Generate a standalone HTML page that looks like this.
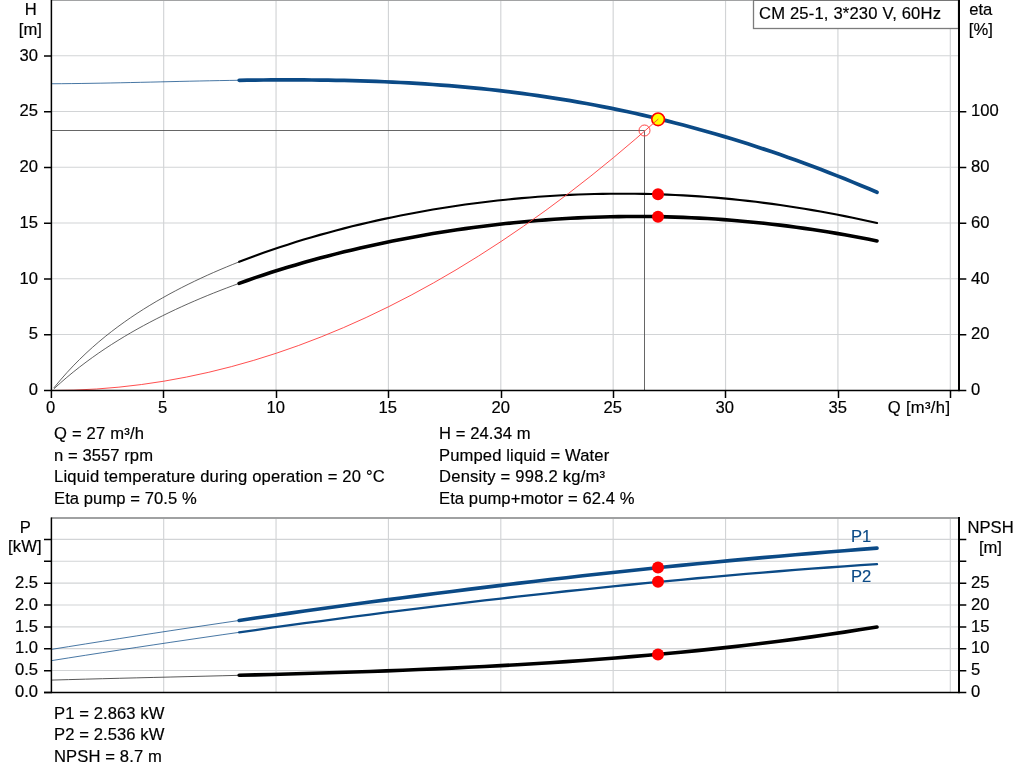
<!DOCTYPE html>
<html lang="en"><head><meta charset="utf-8"><title>CM 25-1 pump curve</title>
<style>
html,body{margin:0;padding:0;background:#fff}
body{width:1024px;height:781px;overflow:hidden}
svg{display:block}
text{font-family:"Liberation Sans",sans-serif;font-size:16.6px;fill:#000;stroke:#000;stroke-width:.18px}
.m{text-anchor:middle}.e{text-anchor:end}
.g{stroke:#d2d4d6;stroke-width:1.15}
.ax{stroke:#000;fill:none}
.c{fill:none;stroke-linecap:round;stroke-linejoin:round}
</style></head><body>
<svg width="1024" height="781" viewBox="0 0 1024 781">
<rect width="1024" height="781" fill="#fff"/>
<g class="g">
<line x1="163.68" y1="1" x2="163.68" y2="390"/>
<line x1="276.05" y1="1" x2="276.05" y2="390"/>
<line x1="388.43" y1="1" x2="388.43" y2="390"/>
<line x1="500.80" y1="1" x2="500.80" y2="390"/>
<line x1="613.17" y1="1" x2="613.17" y2="390"/>
<line x1="725.55" y1="1" x2="725.55" y2="390"/>
<line x1="837.92" y1="1" x2="837.92" y2="390"/>
<line x1="950.30" y1="1" x2="950.30" y2="390"/>
<line x1="52" y1="55.70" x2="958" y2="55.70"/>
<line x1="52" y1="111.45" x2="958" y2="111.45"/>
<line x1="52" y1="167.20" x2="958" y2="167.20"/>
<line x1="52" y1="222.95" x2="958" y2="222.95"/>
<line x1="52" y1="278.70" x2="958" y2="278.70"/>
<line x1="52" y1="334.45" x2="958" y2="334.45"/>
<line x1="163.68" y1="519" x2="163.68" y2="692"/>
<line x1="276.05" y1="519" x2="276.05" y2="692"/>
<line x1="388.43" y1="519" x2="388.43" y2="692"/>
<line x1="500.80" y1="519" x2="500.80" y2="692"/>
<line x1="613.17" y1="519" x2="613.17" y2="692"/>
<line x1="725.55" y1="519" x2="725.55" y2="692"/>
<line x1="837.92" y1="519" x2="837.92" y2="692"/>
<line x1="950.30" y1="519" x2="950.30" y2="692"/>
<line x1="52" y1="670.54" x2="958" y2="670.54"/>
<line x1="52" y1="648.68" x2="958" y2="648.68"/>
<line x1="52" y1="626.82" x2="958" y2="626.82"/>
<line x1="52" y1="604.96" x2="958" y2="604.96"/>
<line x1="52" y1="583.10" x2="958" y2="583.10"/>
<line x1="52" y1="561.24" x2="958" y2="561.24"/>
<line x1="52" y1="539.38" x2="958" y2="539.38"/>
</g>
<rect x="51" y="517" width="908" height="2" fill="#a0a1a2"/>
<path d="M52 130.5H644.5V390" fill="none" stroke="#555" stroke-width="0.9"/>
<g class="c">
<path d="M51.50 83.75 L61.38 83.69 L71.25 83.59 L81.13 83.47 L91.01 83.32 L100.89 83.16 L110.76 82.97 L120.64 82.77 L130.52 82.56 L140.39 82.33 L150.27 82.11 L160.15 81.88 L170.03 81.65 L179.90 81.42 L189.78 81.20 L199.66 80.99 L209.53 80.79 L219.41 80.60 L229.29 80.43 L239.17 80.28" stroke="#0b4a86" stroke-width="0.75"/>
<path d="M239.17 80.28 L247.24 80.17 L255.31 80.08 L263.39 80.00 L271.46 79.94 L279.54 79.91 L287.61 79.89 L295.68 79.90 L303.76 79.93 L311.83 79.98 L319.91 80.06 L327.98 80.16 L336.05 80.30 L344.13 80.46 L352.20 80.66 L360.28 80.88 L368.35 81.14 L376.42 81.43 L384.50 81.75 L392.57 82.12 L400.64 82.51 L408.72 82.95 L416.79 83.42 L424.87 83.93 L432.94 84.48 L441.01 85.07 L449.09 85.70 L457.16 86.38 L465.24 87.10 L473.31 87.86 L481.38 88.67 L489.46 89.52 L497.53 90.42 L505.61 91.36 L513.68 92.36 L521.75 93.40 L529.83 94.49 L537.90 95.62 L545.98 96.81 L554.05 98.05 L562.12 99.34 L570.20 100.68 L578.27 102.07 L586.35 103.51 L594.42 105.01 L602.49 106.56 L610.57 108.16 L618.64 109.82 L626.71 111.53 L634.79 113.30 L642.86 115.12 L650.94 116.99 L659.01 118.92 L667.08 120.91 L675.16 122.95 L683.23 125.05 L691.31 127.20 L699.38 129.41 L707.45 131.68 L715.53 134.00 L723.60 136.38 L731.68 138.81 L739.75 141.30 L747.82 143.85 L755.90 146.46 L763.97 149.12 L772.05 151.84 L780.12 154.61 L788.19 157.45 L796.27 160.33 L804.34 163.28 L812.42 166.28 L820.49 169.33 L828.56 172.44 L836.64 175.61 L844.71 178.83 L852.78 182.11 L860.86 185.44 L868.93 188.82 L877.01 192.26" stroke="#0b4a86" stroke-width="3.7"/>
<path d="M54.08 387.61 L60.47 379.94 L66.85 372.70 L73.23 365.87 L79.61 359.41 L86.00 353.27 L92.38 347.45 L98.76 341.90 L105.14 336.61 L111.52 331.56 L117.91 326.72 L124.29 322.10 L130.67 317.65 L137.05 313.39 L143.43 309.29 L149.82 305.34 L156.20 301.53 L162.58 297.86 L168.96 294.31 L175.35 290.88 L181.73 287.56 L188.11 284.35 L194.49 281.24 L200.87 278.22 L207.26 275.29 L213.64 272.44 L220.02 269.68 L226.40 267.00 L232.78 264.39 L239.17 261.85" stroke="#3a3a3a" stroke-width="0.8"/>
<path d="M54.08 388.66 L60.47 382.89 L66.85 377.37 L73.23 372.09 L79.61 367.03 L86.00 362.17 L92.38 357.50 L98.76 353.01 L105.14 348.68 L111.52 344.51 L117.91 340.49 L124.29 336.60 L130.67 332.84 L137.05 329.20 L143.43 325.68 L149.82 322.27 L156.20 318.96 L162.58 315.75 L168.96 312.63 L175.35 309.59 L181.73 306.65 L188.11 303.78 L194.49 300.99 L200.87 298.27 L207.26 295.62 L213.64 293.04 L220.02 290.52 L226.40 288.07 L232.78 285.67 L239.17 283.34" stroke="#3a3a3a" stroke-width="0.8"/>
<path d="M239.17 261.85 L247.24 258.73 L255.31 255.72 L263.39 252.81 L271.46 249.99 L279.54 247.26 L287.61 244.63 L295.68 242.07 L303.76 239.60 L311.83 237.20 L319.91 234.88 L327.98 232.64 L336.05 230.47 L344.13 228.36 L352.20 226.33 L360.28 224.37 L368.35 222.47 L376.42 220.64 L384.50 218.87 L392.57 217.17 L400.64 215.52 L408.72 213.94 L416.79 212.43 L424.87 210.97 L432.94 209.57 L441.01 208.24 L449.09 206.96 L457.16 205.74 L465.24 204.58 L473.31 203.48 L481.38 202.44 L489.46 201.46 L497.53 200.54 L505.61 199.67 L513.68 198.87 L521.75 198.12 L529.83 197.43 L537.90 196.79 L545.98 196.22 L554.05 195.70 L562.12 195.25 L570.20 194.85 L578.27 194.51 L586.35 194.22 L594.42 194.00 L602.49 193.83 L610.57 193.73 L618.64 193.68 L626.71 193.69 L634.79 193.76 L642.86 193.88 L650.94 194.07 L659.01 194.31 L667.08 194.62 L675.16 194.98 L683.23 195.40 L691.31 195.88 L699.38 196.42 L707.45 197.02 L715.53 197.67 L723.60 198.39 L731.68 199.16 L739.75 199.99 L747.82 200.88 L755.90 201.83 L763.97 202.84 L772.05 203.91 L780.12 205.03 L788.19 206.21 L796.27 207.45 L804.34 208.75 L812.42 210.11 L820.49 211.52 L828.56 212.99 L836.64 214.52 L844.71 216.10 L852.78 217.74 L860.86 219.44 L868.93 221.19 L877.01 223.00" stroke="#000" stroke-width="2.1"/>
<path d="M239.17 283.34 L247.24 280.46 L255.31 277.67 L263.39 274.96 L271.46 272.33 L279.54 269.78 L287.61 267.30 L295.68 264.90 L303.76 262.56 L311.83 260.29 L319.91 258.09 L327.98 255.96 L336.05 253.88 L344.13 251.87 L352.20 249.92 L360.28 248.03 L368.35 246.20 L376.42 244.43 L384.50 242.71 L392.57 241.05 L400.64 239.45 L408.72 237.90 L416.79 236.41 L424.87 234.97 L432.94 233.59 L441.01 232.26 L449.09 230.99 L457.16 229.77 L465.24 228.60 L473.31 227.49 L481.38 226.43 L489.46 225.43 L497.53 224.47 L505.61 223.57 L513.68 222.73 L521.75 221.94 L529.83 221.20 L537.90 220.51 L545.98 219.88 L554.05 219.30 L562.12 218.77 L570.20 218.30 L578.27 217.88 L586.35 217.51 L594.42 217.20 L602.49 216.95 L610.57 216.74 L618.64 216.59 L626.71 216.50 L634.79 216.46 L642.86 216.47 L650.94 216.54 L659.01 216.67 L667.08 216.84 L675.16 217.08 L683.23 217.37 L691.31 217.71 L699.38 218.11 L707.45 218.56 L715.53 219.07 L723.60 219.64 L731.68 220.26 L739.75 220.94 L747.82 221.67 L755.90 222.46 L763.97 223.30 L772.05 224.20 L780.12 225.15 L788.19 226.16 L796.27 227.23 L804.34 228.35 L812.42 229.53 L820.49 230.76 L828.56 232.05 L836.64 233.39 L844.71 234.79 L852.78 236.24 L860.86 237.75 L868.93 239.31 L877.01 240.93" stroke="#000" stroke-width="3.6"/>
</g>
<circle cx="658" cy="194.2" r="6" fill="#f00"/>
<circle cx="658" cy="216.7" r="6" fill="#f00"/>
<circle cx="658.1" cy="119.3" r="6.3" fill="#ff0" stroke="#f00" stroke-width="1.6"/>
<path d="M51.50 390.50 L73.97 390.13 L96.45 389.01 L118.93 387.15 L141.40 384.54 L163.88 381.19 L186.35 377.09 L208.83 372.25 L231.30 366.66 L253.78 360.33 L276.25 353.26 L298.73 345.44 L321.20 336.87 L343.68 327.56 L366.15 317.50 L388.62 306.70 L411.10 295.16 L433.58 282.87 L456.05 269.83 L478.53 256.05 L501.00 241.53 L523.48 226.26 L545.95 210.24 L568.43 193.49 L590.90 175.98 L613.38 157.73 L635.85 138.74 L658.33 119.00" fill="none" stroke="#ff3b3b" stroke-width="0.9"/>
<circle cx="644.5" cy="130.5" r="5.5" fill="none" stroke="#ff3030" stroke-width="0.9"/>
<rect x="753.5" y="-1" width="205" height="29.5" fill="#fff" stroke="#7c7c7c" stroke-width="1.3"/>
<text x="759" y="19.3" textLength="181.95" lengthAdjust="spacing">CM 25-1, 3*230 V, 60Hz</text>
<rect x="51" y="-1" width="908" height="2" fill="#a2a3a4"/>
<rect x="753" y="-1" width="205" height="2" fill="#767676"/>
<g class="ax">
<path d="M51.4 0V398" stroke-width="1.5"/>
<path d="M44 390.5H959" stroke-width="1.5"/>
<rect x="958" y="0" width="2" height="391.2" fill="#000" stroke="none"/>
<path d="M44 56.00H52" stroke-width="1.5"/>
<path d="M44 111.75H52" stroke-width="1.5"/>
<path d="M959 111.75H966.3" stroke-width="1.5"/>
<path d="M44 167.50H52" stroke-width="1.5"/>
<path d="M959 167.50H966.3" stroke-width="1.5"/>
<path d="M44 223.25H52" stroke-width="1.5"/>
<path d="M959 223.25H966.3" stroke-width="1.5"/>
<path d="M44 279.00H52" stroke-width="1.5"/>
<path d="M959 279.00H966.3" stroke-width="1.5"/>
<path d="M44 334.75H52" stroke-width="1.5"/>
<path d="M959 334.75H966.3" stroke-width="1.5"/>
<path d="M959 390.5H966.3" stroke-width="1.5"/>
<path d="M163.5 390V398" stroke-width="1.5"/>
<path d="M276.5 390V398" stroke-width="1.5"/>
<path d="M388.5 390V398" stroke-width="1.5"/>
<path d="M501.5 390V398" stroke-width="1.5"/>
<path d="M613.5 390V398" stroke-width="1.5"/>
<path d="M725.5 390V398" stroke-width="1.5"/>
<path d="M838.5 390V398" stroke-width="1.5"/>
<path d="M950.5 390V398" stroke-width="1.5"/>
</g>
<text class="m" x="30.8" y="14.7">H</text><text class="m" x="30.3" y="35">[m]</text>
<text class="e" x="38" y="60.6">30</text>
<text class="e" x="38" y="116.3">25</text>
<text class="e" x="38" y="172.1">20</text>
<text class="e" x="38" y="227.8">15</text>
<text class="e" x="38" y="283.6">10</text>
<text class="e" x="38" y="339.4">5</text>
<text class="e" x="38" y="395.1">0</text>
<text x="971" y="116.3">100</text>
<text x="971" y="172.1">80</text>
<text x="971" y="227.8">60</text>
<text x="971" y="283.6">40</text>
<text x="971" y="339.4">20</text>
<text x="971" y="395.1">0</text>
<text class="m" x="980.8" y="14.7">eta</text><text class="m" x="980.8" y="35">[%]</text>
<text class="m" x="50.7" y="412.5">0</text>
<text class="m" x="162.7" y="412.5">5</text>
<text class="m" x="275.7" y="412.5">10</text>
<text class="m" x="387.7" y="412.5">15</text>
<text class="m" x="500.7" y="412.5">20</text>
<text class="m" x="612.7" y="412.5">25</text>
<text class="m" x="724.7" y="412.5">30</text>
<text class="m" x="837.7" y="412.5">35</text>
<text x="887.7" y="412.5" textLength="62.3" lengthAdjust="spacing">Q [m³/h]</text>
<text x="54.0" y="439.0" textLength="89.92" lengthAdjust="spacing">Q = 27 m³/h</text>
<text x="439.0" y="439.0" textLength="91.61" lengthAdjust="spacing">H = 24.34 m</text>
<text x="54.0" y="460.7" textLength="98.98" lengthAdjust="spacing">n = 3557 rpm</text>
<text x="439.0" y="460.7" textLength="170.22" lengthAdjust="spacing">Pumped liquid = Water</text>
<text x="54.0" y="482.4" textLength="330.69" lengthAdjust="spacing">Liquid temperature during operation = 20 °C</text>
<text x="439.0" y="482.4" textLength="166.08" lengthAdjust="spacing">Density = 998.2 kg/m³</text>
<text x="54.0" y="504.2" textLength="142.78" lengthAdjust="spacing">Eta pump = 70.5 %</text>
<text x="439.0" y="504.2" textLength="195.53" lengthAdjust="spacing">Eta pump+motor = 62.4 %</text>
<g class="c">
<path d="M51.50 649.39 L68.56 646.65 L85.62 643.93 L102.68 641.23 L119.74 638.55 L136.80 635.89 L153.86 633.26 L170.92 630.65 L187.98 628.07 L205.05 625.51 L222.11 622.97 L239.17 620.46" stroke="#0b4a86" stroke-width="0.75"/>
<path d="M51.50 660.63 L68.56 657.93 L85.62 655.26 L102.68 652.61 L119.74 649.99 L136.80 647.39 L153.86 644.82 L170.92 642.27 L187.98 639.75 L205.05 637.25 L222.11 634.78 L239.17 632.34" stroke="#0b4a86" stroke-width="0.75"/>
<path d="M51.50 680.09 L68.56 679.61 L85.62 679.15 L102.68 678.71 L119.74 678.28 L136.80 677.85 L153.86 677.43 L170.92 677.02 L187.98 676.60 L205.05 676.18 L222.11 675.75 L239.17 675.32" stroke="#444" stroke-width="0.9"/>
<path d="M239.17 620.46 L255.52 618.08 L271.88 615.72 L288.23 613.38 L304.59 611.07 L320.94 608.78 L337.30 606.52 L353.65 604.28 L370.01 602.07 L386.36 599.89 L402.72 597.73 L419.07 595.60 L435.42 593.50 L451.78 591.42 L468.13 589.37 L484.49 587.35 L500.84 585.36 L517.20 583.39 L533.55 581.46 L549.91 579.55 L566.26 577.68 L582.62 575.83 L598.97 574.02 L615.33 572.23 L631.68 570.48 L648.04 568.76 L664.39 567.07 L680.75 565.41 L697.10 563.79 L713.46 562.20 L729.81 560.64 L746.17 559.11 L762.52 557.62 L778.88 556.17 L795.23 554.74 L811.59 553.36 L827.94 552.00 L844.30 550.69 L860.65 549.41 L877.01 548.16" stroke="#0b4a86" stroke-width="3.6"/>
<path d="M239.17 632.34 L255.52 630.02 L271.88 627.73 L288.23 625.47 L304.59 623.23 L320.94 621.02 L337.30 618.83 L353.65 616.68 L370.01 614.55 L386.36 612.44 L402.72 610.37 L419.07 608.32 L435.42 606.31 L451.78 604.32 L468.13 602.36 L484.49 600.44 L500.84 598.54 L517.20 596.67 L533.55 594.84 L549.91 593.03 L566.26 591.26 L582.62 589.52 L598.97 587.81 L615.33 586.14 L631.68 584.50 L648.04 582.89 L664.39 581.31 L680.75 579.77 L697.10 578.27 L713.46 576.79 L729.81 575.36 L746.17 573.96 L762.52 572.59 L778.88 571.26 L795.23 569.97 L811.59 568.71 L827.94 567.50 L844.30 566.31 L860.65 565.17 L877.01 564.07" stroke="#0b4a86" stroke-width="2.3"/>
<path d="M239.17 675.32 L255.52 674.90 L271.88 674.46 L288.23 674.00 L304.59 673.53 L320.94 673.04 L337.30 672.53 L353.65 671.99 L370.01 671.43 L386.36 670.83 L402.72 670.20 L419.07 669.54 L435.42 668.84 L451.78 668.10 L468.13 667.32 L484.49 666.50 L500.84 665.62 L517.20 664.70 L533.55 663.73 L549.91 662.70 L566.26 661.62 L582.62 660.47 L598.97 659.27 L615.33 658.00 L631.68 656.66 L648.04 655.26 L664.39 653.78 L680.75 652.23 L697.10 650.60 L713.46 648.90 L729.81 647.11 L746.17 645.24 L762.52 643.28 L778.88 641.24 L795.23 639.10 L811.59 636.87 L827.94 634.54 L844.30 632.12 L860.65 629.59 L877.01 626.96" stroke="#000" stroke-width="3.6"/>
</g>
<circle cx="658" cy="567.5" r="6" fill="#f00"/><circle cx="658" cy="581.8" r="6" fill="#f00"/><circle cx="658" cy="654.5" r="6" fill="#f00"/>
<text x="851" y="541.6" style="fill:#0b4a86;stroke:#0b4a86">P1</text><text x="851" y="581.8" style="fill:#0b4a86;stroke:#0b4a86">P2</text>
<g class="ax">
<path d="M51.4 517.5V693" stroke-width="1.5"/>
<path d="M44 692.5H959" stroke-width="1.4"/>
<rect x="958" y="517" width="2" height="176.2" fill="#000" stroke="none"/>
<path d="M44 670.64H52M959 670.64H966.3" stroke-width="1.5"/>
<path d="M44 648.78H52M959 648.78H966.3" stroke-width="1.5"/>
<path d="M44 626.92H52M959 626.92H966.3" stroke-width="1.5"/>
<path d="M44 605.06H52M959 605.06H966.3" stroke-width="1.5"/>
<path d="M44 583.20H52M959 583.20H966.3" stroke-width="1.5"/>
<path d="M44 561.34H52M959 561.34H966.3" stroke-width="1.5"/>
<path d="M44 539.48H52M959 539.48H966.3" stroke-width="1.5"/>
<path d="M44 692.50H52M959 692.50H966.3" stroke-width="1.5"/>
</g>
<text class="e" x="38" y="697.1">0.0</text>
<text class="e" x="38" y="675.2">0.5</text>
<text class="e" x="38" y="653.4">1.0</text>
<text class="e" x="38" y="631.5">1.5</text>
<text class="e" x="38" y="609.7">2.0</text>
<text class="e" x="38" y="587.8">2.5</text>
<text x="971" y="697.1">0</text>
<text x="971" y="675.2">5</text>
<text x="971" y="653.4">10</text>
<text x="971" y="631.5">15</text>
<text x="971" y="609.7">20</text>
<text x="971" y="587.8">25</text>
<text class="m" x="25.2" y="533.3">P</text><text x="8" y="552.2" textLength="33.6" lengthAdjust="spacing">[kW]</text>
<text class="m" x="990.6" y="533.3">NPSH</text><text class="m" x="990.4" y="552.6">[m]</text>
<text x="54" y="718.5" textLength="110.39" lengthAdjust="spacing">P1 = 2.863 kW</text>
<text x="54" y="740.1" textLength="110.39" lengthAdjust="spacing">P2 = 2.536 kW</text>
<text x="54" y="761.7" textLength="107.80" lengthAdjust="spacing">NPSH = 8.7 m</text>
</svg></body></html>
